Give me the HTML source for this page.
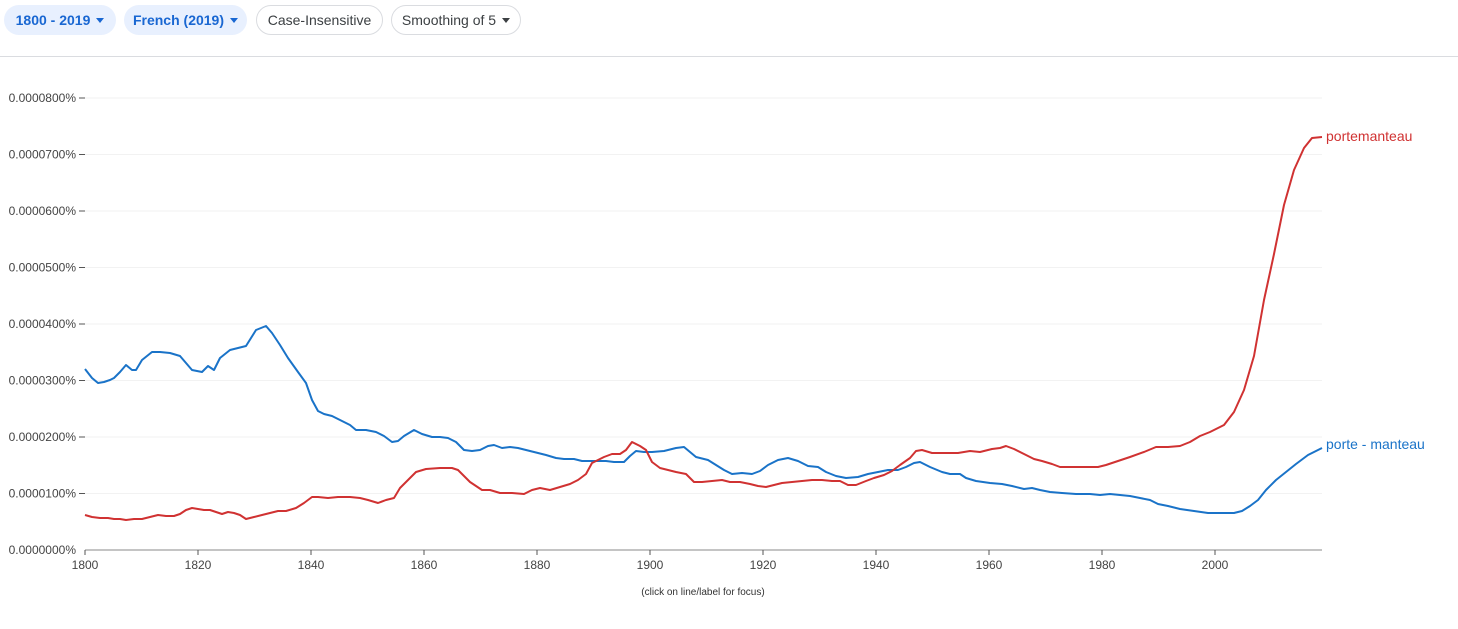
<!DOCTYPE html>
<html><head><style>
body{margin:0;width:1458px;height:629px;background:#fff;font-family:"Liberation Sans",Arial,sans-serif;overflow:hidden;position:relative}
.pill{position:absolute;top:5px;height:30px;border-radius:15px;font-size:14px;line-height:30px;box-sizing:border-box;text-align:center}
.b{background:#e8f0fe;color:#1967d2;font-weight:bold}
.w{border:1px solid #dadce0;color:#3c4043;line-height:28px}
.car{display:inline-block;width:0;height:0;border-left:4px solid transparent;border-right:4px solid transparent;border-top:5px solid currentColor;vertical-align:middle;margin-left:6px;margin-top:-2px}
</style></head><body>
<div class="pill b" style="left:4px;width:112px">1800 - 2019<span class="car"></span></div>
<div class="pill b" style="left:124px;width:123px">French (2019)<span class="car"></span></div>
<div class="pill w" style="left:256px;width:127px">Case-Insensitive</div>
<div class="pill w" style="left:391px;width:130px">Smoothing of 5<span class="car" style="color:#3c4043"></span></div>
<div style="position:absolute;left:0;top:56px;width:1458px;height:1px;background:#dadce0"></div>
<svg width="1458" height="629" style="position:absolute;left:0;top:0" font-family="Liberation Sans, Arial, sans-serif">
<g stroke="#f2f2f2" stroke-width="1">
<line x1="85" x2="1322" y1="98" y2="98"/><line x1="85" x2="1322" y1="154.5" y2="154.5"/><line x1="85" x2="1322" y1="211" y2="211"/><line x1="85" x2="1322" y1="267.5" y2="267.5"/><line x1="85" x2="1322" y1="324" y2="324"/><line x1="85" x2="1322" y1="380.5" y2="380.5"/><line x1="85" x2="1322" y1="437" y2="437"/><line x1="85" x2="1322" y1="493.5" y2="493.5"/>
</g>
<g stroke="#555" stroke-width="1">
<line x1="79" x2="85" y1="98" y2="98"/><line x1="79" x2="85" y1="154.5" y2="154.5"/><line x1="79" x2="85" y1="211" y2="211"/><line x1="79" x2="85" y1="267.5" y2="267.5"/><line x1="79" x2="85" y1="324" y2="324"/><line x1="79" x2="85" y1="380.5" y2="380.5"/><line x1="79" x2="85" y1="437" y2="437"/><line x1="79" x2="85" y1="493.5" y2="493.5"/>
<line x1="85" x2="1322" y1="550" y2="550" stroke="#888"/>
<line x1="85" x2="85" y1="550" y2="555"/><line x1="198" x2="198" y1="550" y2="555"/><line x1="311" x2="311" y1="550" y2="555"/><line x1="424" x2="424" y1="550" y2="555"/><line x1="537" x2="537" y1="550" y2="555"/><line x1="650" x2="650" y1="550" y2="555"/><line x1="763" x2="763" y1="550" y2="555"/><line x1="876" x2="876" y1="550" y2="555"/><line x1="989" x2="989" y1="550" y2="555"/><line x1="1102" x2="1102" y1="550" y2="555"/><line x1="1215" x2="1215" y1="550" y2="555"/>
</g>
<g font-size="12" fill="#444" text-anchor="end">
<text x="76" y="102">0.0000800%</text><text x="76" y="158.5">0.0000700%</text><text x="76" y="215">0.0000600%</text><text x="76" y="271.5">0.0000500%</text><text x="76" y="328">0.0000400%</text><text x="76" y="384.5">0.0000300%</text><text x="76" y="441">0.0000200%</text><text x="76" y="497.5">0.0000100%</text><text x="76" y="554">0.0000000%</text>
</g>
<g font-size="12" fill="#444" text-anchor="middle">
<text x="85" y="569">1800</text><text x="198" y="569">1820</text><text x="311" y="569">1840</text><text x="424" y="569">1860</text><text x="537" y="569">1880</text><text x="650" y="569">1900</text><text x="763" y="569">1920</text><text x="876" y="569">1940</text><text x="989" y="569">1960</text><text x="1102" y="569">1980</text><text x="1215" y="569">2000</text>
<text x="703" y="595" font-size="10" fill="#333">(click on line/label for focus)</text>
</g>
<polyline fill="none" stroke="#1a73c8" stroke-width="2" stroke-linejoin="round" points="85,369 92,378 98,383 104,382 110,380 114,378 120,372 126,365 132,370 136,370 142,360 152,352 160,352 170,353 180,356 192,370 202,372 208,366 214,370 220,358 230,350 246,346 256,330 266,326 272,333 280,345 288,358 298,372 306,383 312,400 318,411 324,414 332,416 340,420 350,425 356,430 366,430 376,432 384,436 392,442 398,441 404,436 414,430 422,434 432,437 440,437 448,438 456,442 464,450 472,451 480,450 488,446 494,445 502,448 510,447 518,448 530,451 546,455 556,458 564,459 574,459 582,461 594,461 606,461 614,462 624,462 630,456 636,451 644,452 652,452 664,451 676,448 684,447 690,452 696,457 708,460 716,465 724,470 732,474 742,473 752,474 760,471 768,465 778,460 788,458 798,461 808,466 818,467 826,472 836,476 846,478 858,477 868,474 878,472 888,470 898,470 906,467 914,463 920,462 930,467 942,472 950,474 960,474 966,478 976,481 990,483 1002,484 1012,486 1024,489 1032,488 1040,490 1050,492 1062,493 1076,494 1090,494 1100,495 1110,494 1120,495 1130,496 1140,498 1150,500 1158,504 1168,506 1180,509 1194,511 1208,513 1222,513 1234,513 1242,511 1250,506 1258,500 1266,490 1276,480 1286,472 1296,464 1308,455 1322,448"/>
<polyline fill="none" stroke="#d03232" stroke-width="2" stroke-linejoin="round" points="85,515 92,517 100,518 108,518 114,519 120,519 126,520 134,519 142,519 150,517 158,515 166,516 174,516 180,514 186,510 192,508 198,509 204,510 210,510 216,512 222,514 228,512 234,513 240,515 246,519 254,517 262,515 270,513 278,511 286,511 296,508 304,503 312,497 318,497 328,498 338,497 350,497 360,498 368,500 378,503 386,500 394,498 400,488 408,480 416,472 426,469 440,468 452,468 458,470 464,476 470,482 476,486 482,490 490,490 500,493 512,493 524,494 532,490 540,488 550,490 560,487 570,484 578,480 586,474 592,463 598,460 604,457 612,454 620,454 626,450 632,442 640,446 646,450 652,462 660,468 668,470 676,472 686,474 694,482 702,482 712,481 722,480 730,482 740,482 750,484 758,486 766,487 774,485 782,483 792,482 802,481 812,480 822,480 832,481 840,481 848,485 856,485 866,481 874,478 884,475 892,471 900,465 910,458 916,451 922,450 932,453 946,453 958,453 970,451 980,452 992,449 1000,448 1006,446 1014,449 1024,454 1034,459 1042,461 1052,464 1060,467 1066,467 1076,467 1086,467 1098,467 1106,465 1118,461 1130,457 1144,452 1156,447 1168,447 1180,446 1190,442 1200,436 1210,432 1216,429 1224,425 1234,412 1244,390 1254,356 1264,300 1274,254 1284,205 1294,170 1304,148 1312,138 1322,137"/>
<text x="1326" y="141" font-size="14" fill="#d03232">portemanteau</text>
<text x="1326" y="449" font-size="14" fill="#1a73c8">porte - manteau</text>
</svg>
</body></html>
